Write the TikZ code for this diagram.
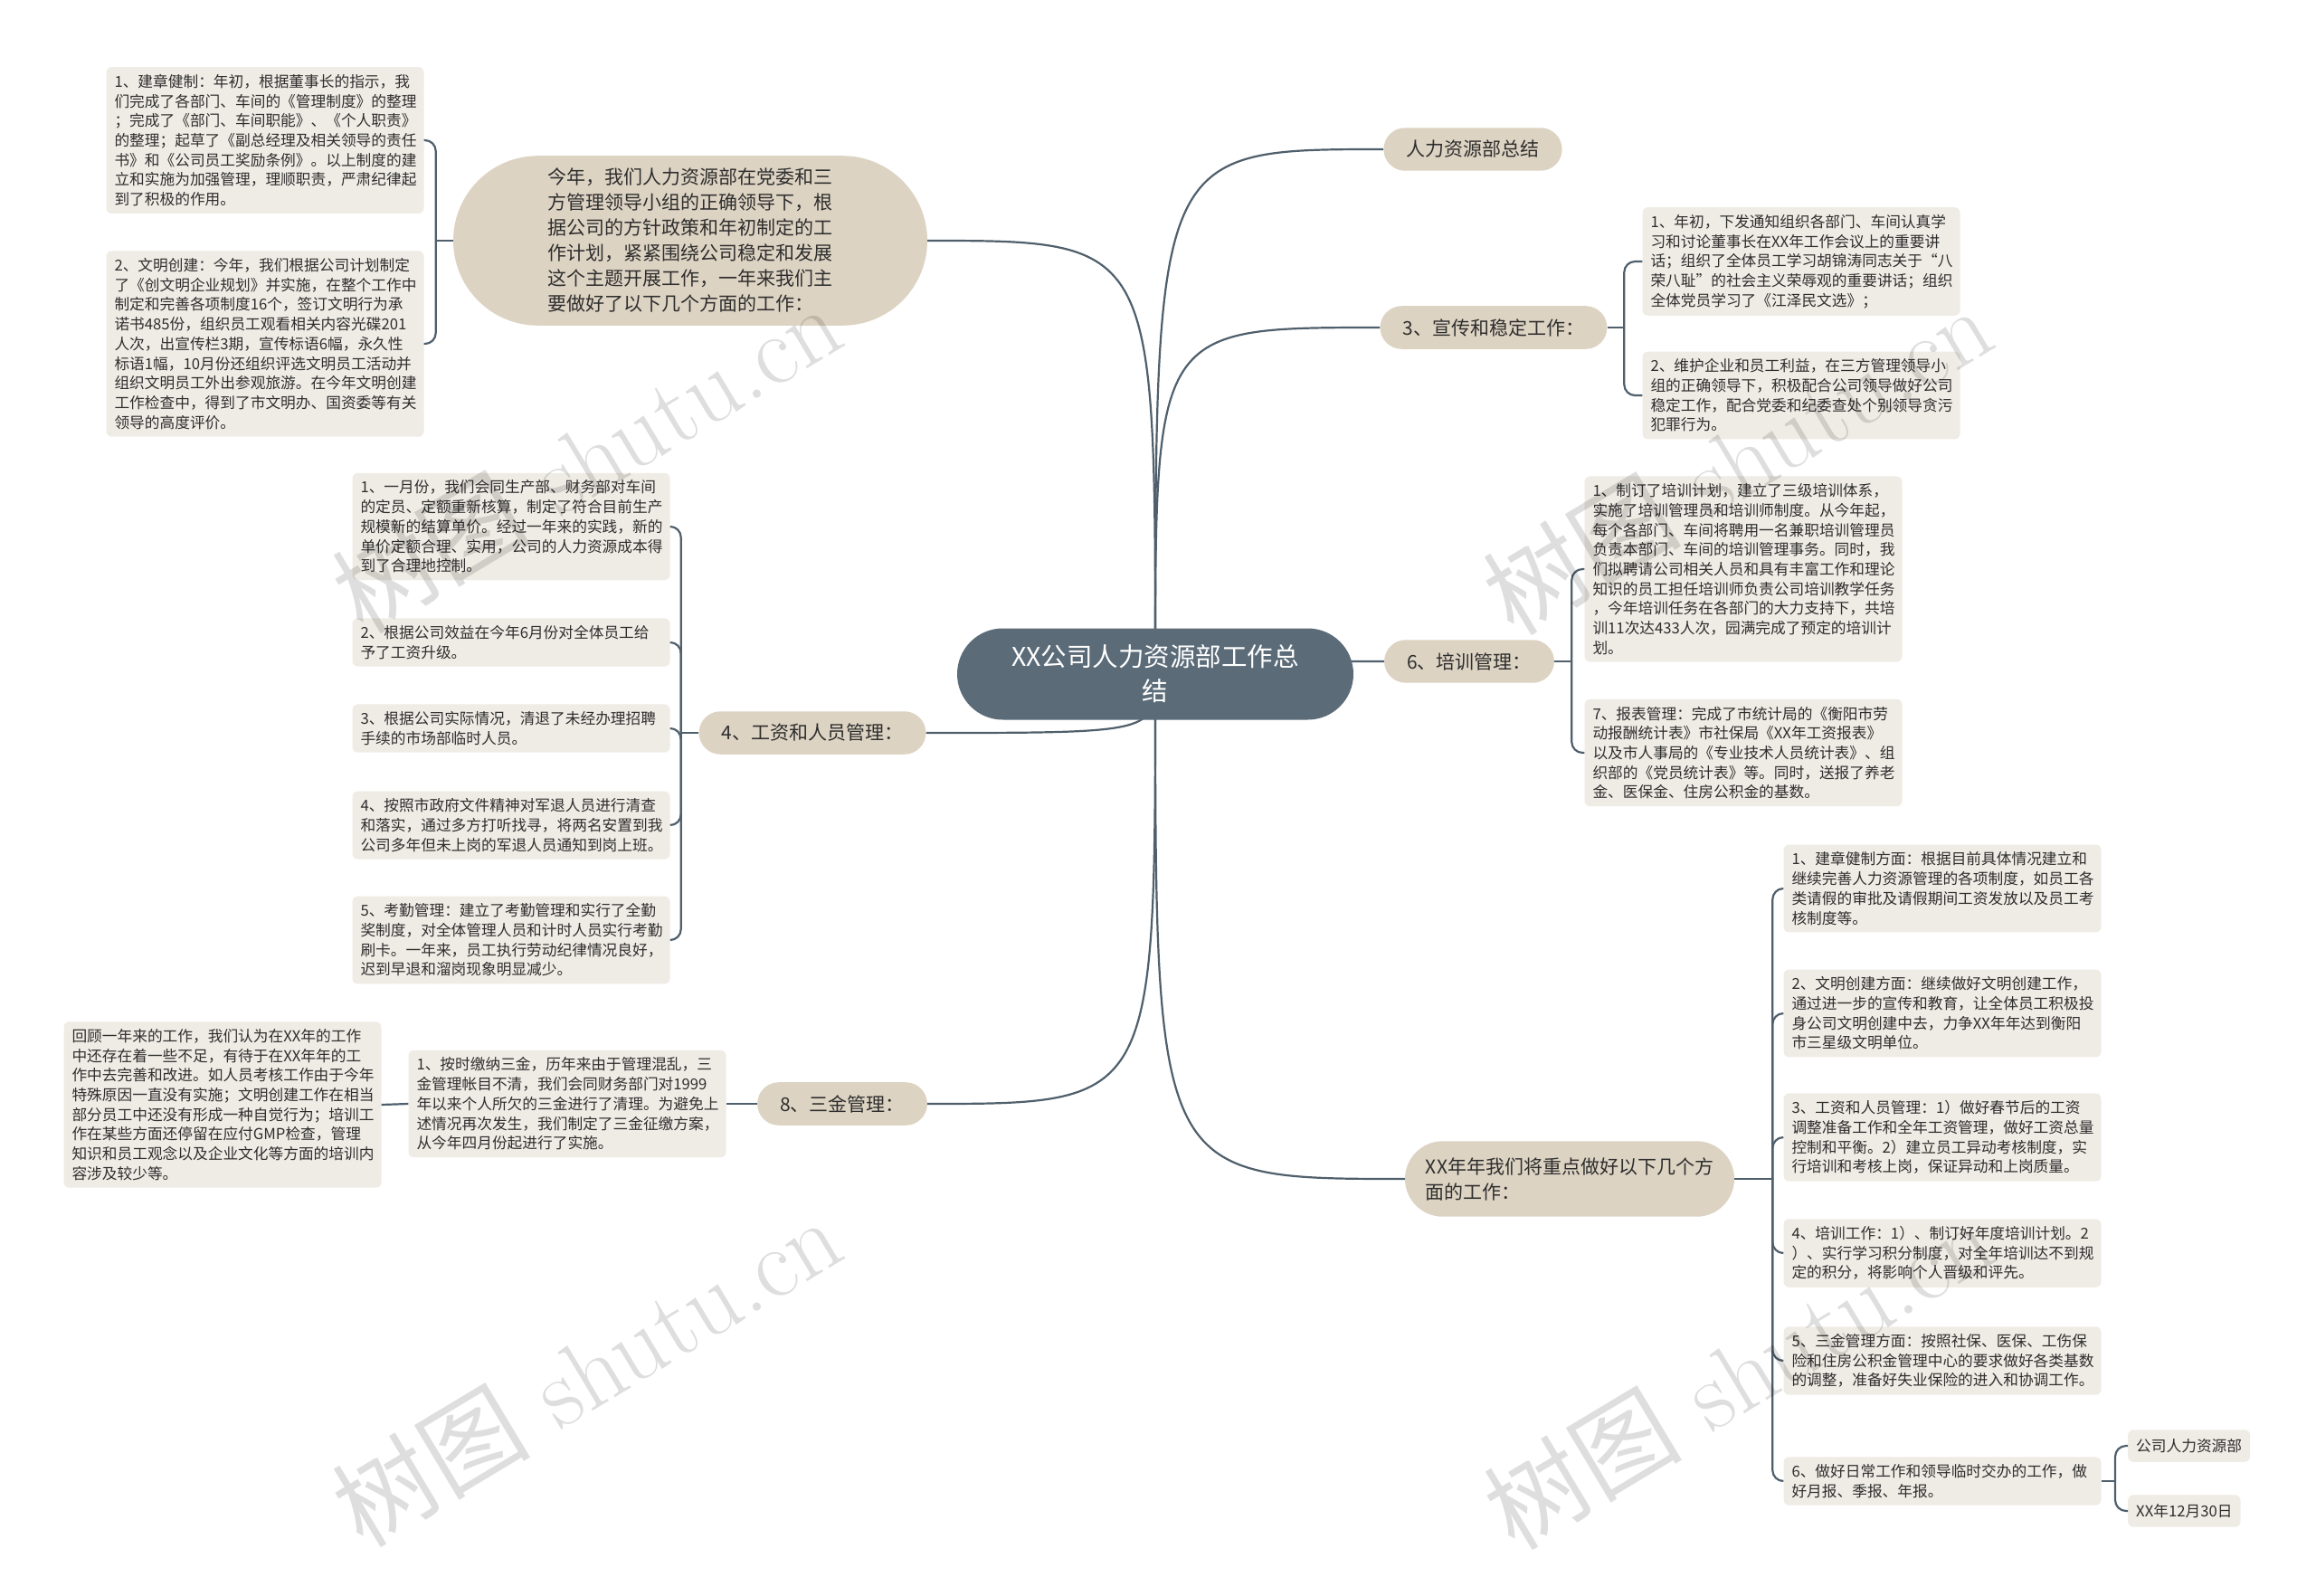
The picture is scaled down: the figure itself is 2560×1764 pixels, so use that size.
\documentclass[tikz,border=0pt]{standalone}
\usepackage{fontspec}
\newfontfamily\cjk{Noto Sans CJK SC}
\usetikzlibrary{shapes.misc, backgrounds}
\definecolor{rootc}{HTML}{5B6B78}
\definecolor{topicc}{HTML}{DDD3C3}
\definecolor{leafc}{HTML}{EFECE5}
\definecolor{linec}{HTML}{4F5F6B}
\definecolor{inkc}{HTML}{2E2E2E}
\tikzset{
  link/.style={draw=linec, line width=2.2pt},
  rootbox/.style={rounded rectangle, fill=rootc, text=white, align=center, inner xsep=0pt,
    minimum width=438pt, minimum height=101pt, font=\cjk\fontsize{28.5pt}{38pt}\selectfont},
  topic/.style={rounded rectangle, fill=topicc, text=inkc, align=left, inner xsep=23pt,
    inner ysep=14pt, font=\cjk\fontsize{21pt}{28pt}\selectfont},
  leaf/.style={rounded corners=6pt, fill=leafc, text=inkc, align=left, text width=333pt,
    inner xsep=9pt, inner ysep=8pt, font=\cjk\fontsize{16.7pt}{21.7pt}\selectfont},
  tag/.style={rounded corners=6pt, fill=leafc, text=inkc, inner xsep=9pt, inner ysep=10pt,
    font=\cjk\fontsize{16.7pt}{21.7pt}\selectfont},
  wmark/.style={rotate=31, text=black, text opacity=0.13, font=\fontsize{110pt}{110pt}\selectfont},
}
\begin{document}
\begin{tikzpicture}[x=1pt, y=-1pt]
  % centre and first level
  \node[rootbox] (root) at (1277,745) {XX公司人力资源部工作总\\结};
  \node[topic, minimum width=524pt, inner xsep=0pt] (intro) at (763,266) {今年，我们人力资源部在党委和三\\
    方管理领导小组的正确领导下，根\\
    据公司的方针政策和年初制定的工\\
    作计划，紧紧围绕公司稳定和发展\\
    这个主题开展工作，一年来我们主\\
    要做好了以下几个方面的工作：};
  \node[topic] (wage) at (898,810) {4、工资和人员管理：};
  \node[topic] (fund) at (931,1220) {8、三金管理：};
  \node[topic] (hrsum) at (1628,165) {人力资源部总结};
  \node[topic] (pub) at (1651,362) {3、宣传和稳定工作：};
  \node[topic] (train) at (1624,731) {6、培训管理：};
  \node[topic, minimum width=410pt, inner ysep=18pt] (plan) at (1735,1303) {XX年年我们将重点做好以下几个方\\面的工作：};

  % left leaves
  \node[leaf] (intro1) at (293,155) {1、建章健制：年初，根据董事长的指示，我\\
    们完成了各部门、车间的《管理制度》的整理\\
    ；完成了《部门、车间职能》、《个人职责》\\
    的整理；起草了《副总经理及相关领导的责任\\
    书》和《公司员工奖励条例》。以上制度的建\\
    立和实施为加强管理，理顺职责，严肃纪律起\\
    到了积极的作用。};
  \node[leaf] (intro2) at (293,380) {2、文明创建：今年，我们根据公司计划制定\\
    了《创文明企业规划》并实施，在整个工作中\\
    制定和完善各项制度16个，签订文明行为承\\
    诺书485份，组织员工观看相关内容光碟201\\
    人次，出宣传栏3期，宣传标语6幅，永久性\\
    标语1幅，10月份还组织评选文明员工活动并\\
    组织文明员工外出参观旅游。在今年文明创建\\
    工作检查中，得到了市文明办、国资委等有关\\
    领导的高度评价。};
  \node[leaf] (wage1) at (565,582) {1、一月份，我们会同生产部、财务部对车间\\
    的定员、定额重新核算，制定了符合目前生产\\
    规模新的结算单价。经过一年来的实践，新的\\
    单价定额合理、实用，公司的人力资源成本得\\
    到了合理地控制。};
  \node[leaf] (wage2) at (565,710) {2、根据公司效益在今年6月份对全体员工给\\
    予了工资升级。};
  \node[leaf] (wage3) at (565,805) {3、根据公司实际情况，清退了未经办理招聘\\
    手续的市场部临时人员。};
  \node[leaf] (wage4) at (565,912) {4、按照市政府文件精神对军退人员进行清查\\
    和落实，通过多方打听找寻，将两名安置到我\\
    公司多年但未上岗的军退人员通知到岗上班。};
  \node[leaf] (wage5) at (565,1039) {5、考勤管理：建立了考勤管理和实行了全勤\\
    奖制度，对全体管理人员和计时人员实行考勤\\
    刷卡。一年来，员工执行劳动纪律情况良好，\\
    迟到早退和溜岗现象明显减少。};
  \node[leaf] (fund1) at (627,1220) {1、按时缴纳三金，历年来由于管理混乱，三\\
    金管理帐目不清，我们会同财务部门对1999\\
    年以来个人所欠的三金进行了清理。为避免上\\
    述情况再次发生，我们制定了三金征缴方案，\\
    从今年四月份起进行了实施。};
  \node[leaf] (review) at (246,1221) {回顾一年来的工作，我们认为在XX年的工作\\
    中还存在着一些不足，有待于在XX年年的工\\
    作中去完善和改进。如人员考核工作由于今年\\
    特殊原因一直没有实施；文明创建工作在相当\\
    部分员工中还没有形成一种自觉行为；培训工\\
    作在某些方面还停留在应付GMP检查，管理\\
    知识和员工观念以及企业文化等方面的培训内\\
    容涉及较少等。};

  % right leaves
  \node[leaf] (pub1) at (1991,289) {1、年初，下发通知组织各部门、车间认真学\\
    习和讨论董事长在XX年工作会议上的重要讲\\
    话；组织了全体员工学习胡锦涛同志关于“八\\
    荣八耻”的社会主义荣辱观的重要讲话；组织\\
    全体党员学习了《江泽民文选》；};
  \node[leaf] (pub2) at (1991,437) {2、维护企业和员工利益，在三方管理领导小\\
    组的正确领导下，积极配合公司领导做好公司\\
    稳定工作，配合党委和纪委查处个别领导贪污\\
    犯罪行为。};
  \node[leaf] (train1) at (1927,629) {1、制订了培训计划，建立了三级培训体系，\\
    实施了培训管理员和培训师制度。从今年起，\\
    每个各部门、车间将聘用一名兼职培训管理员\\
    负责本部门、车间的培训管理事务。同时，我\\
    们拟聘请公司相关人员和具有丰富工作和理论\\
    知识的员工担任培训师负责公司培训教学任务\\
    ，今年培训任务在各部门的大力支持下，共培\\
    训11次达433人次，园满完成了预定的培训计\\
    划。};
  \node[leaf] (train2) at (1927,832) {7、报表管理：完成了市统计局的《衡阳市劳\\
    动报酬统计表》市社保局《XX年工资报表》\\
    以及市人事局的《专业技术人员统计表》、组\\
    织部的《党员统计表》等。同时，送报了养老\\
    金、医保金、住房公积金的基数。};
  \node[leaf] (plan1) at (2147,982) {1、建章健制方面：根据目前具体情况建立和\\
    继续完善人力资源管理的各项制度，如员工各\\
    类请假的审批及请假期间工资发放以及员工考\\
    核制度等。};
  \node[leaf] (plan2) at (2147,1120) {2、文明创建方面：继续做好文明创建工作，\\
    通过进一步的宣传和教育，让全体员工积极投\\
    身公司文明创建中去，力争XX年年达到衡阳\\
    市三星级文明单位。};
  \node[leaf] (plan3) at (2147,1257) {3、工资和人员管理：1）做好春节后的工资\\
    调整准备工作和全年工资管理，做好工资总量\\
    控制和平衡。2）建立员工异动考核制度，实\\
    行培训和考核上岗，保证异动和上岗质量。};
  \node[leaf] (plan4) at (2147,1385) {4、培训工作：1）、制订好年度培训计划。2\\
    ）、实行学习积分制度，对全年培训达不到规\\
    定的积分，将影响个人晋级和评先。};
  \node[leaf] (plan5) at (2147,1504) {5、三金管理方面：按照社保、医保、工伤保\\
    险和住房公积金管理中心的要求做好各类基数\\
    的调整，准备好失业保险的进入和协调工作。};
  \node[leaf] (plan6) at (2147,1637) {6、做好日常工作和领导临时交办的工作，做\\
    好月报、季报、年报。};
  \node[tag, anchor=west] (sign1) at (2352,1598) {公司人力资源部};
  \node[tag, anchor=west] (sign2) at (2352,1670) {XX年12月30日};

  % curves from the centre
  \begin{scope}[on background layer]
    \fill[white] (0,0) rectangle (2560,1764);
    \foreach \t in {intro, wage, fund}
      \draw[link] (root.center) .. controls (root.center |- \t.east) and (root.center |- \t.east) .. (\t.east);
    \foreach \t in {hrsum, pub, train, plan}
      \draw[link] (root.center) .. controls (root.center |- \t.west) and (root.center |- \t.west) .. (\t.west);
  \end{scope}
  \useasboundingbox (0,0) rectangle (2560,1764);

  % brackets to the leaves
  \coordinate (introsp) at ([xshift=13pt]intro1.east |- intro.west);
  \draw[link] (intro.west) -- (introsp);
  \foreach \c in {intro1, intro2}
    \draw[link, rounded corners=12pt] (introsp) |- (\c.east);
  \coordinate (wagesp) at ([xshift=12pt]wage1.east |- wage.west);
  \draw[link] (wage.west) -- (wagesp);
  \foreach \c in {wage1, wage2, wage3, wage4, wage5}
    \draw[link, rounded corners=12pt] (wagesp) |- (\c.east);
  \draw[link] (fund.west) -- (fund1.east);
  \draw[link] (fund1.west) -- (review.east);
  \coordinate (pubsp) at ([xshift=-20pt]pub1.west |- pub.east);
  \draw[link] (pub.east) -- (pubsp);
  \foreach \c in {pub1, pub2}
    \draw[link, rounded corners=12pt] (pubsp) |- (\c.west);
  \coordinate (trainsp) at ([xshift=-14pt]train1.west |- train.east);
  \draw[link] (train.east) -- (trainsp);
  \foreach \c in {train1, train2}
    \draw[link, rounded corners=12pt] (trainsp) |- (\c.west);
  \coordinate (plansp) at ([xshift=-12pt]plan1.west |- plan.east);
  \draw[link] (plan.east) -- (plansp);
  \foreach \c in {plan1, plan2, plan3, plan4, plan5, plan6}
    \draw[link, rounded corners=12pt] (plansp) |- (\c.west);
  \coordinate (signsp) at ([xshift=-14pt]sign1.west |- plan6.east);
  \draw[link] (plan6.east) -- (signsp);
  \foreach \c in {sign1, sign2}
    \draw[link, rounded corners=12pt] (signsp) |- (\c.west);

  % watermark
  \foreach \p/\q in {648/506, 1920/508, 648/1515, 1921/1518}
    \node[wmark] (wm) at (\p,\q) {{\cjk 树图} shutu.cn};
\end{tikzpicture}
\end{document}
